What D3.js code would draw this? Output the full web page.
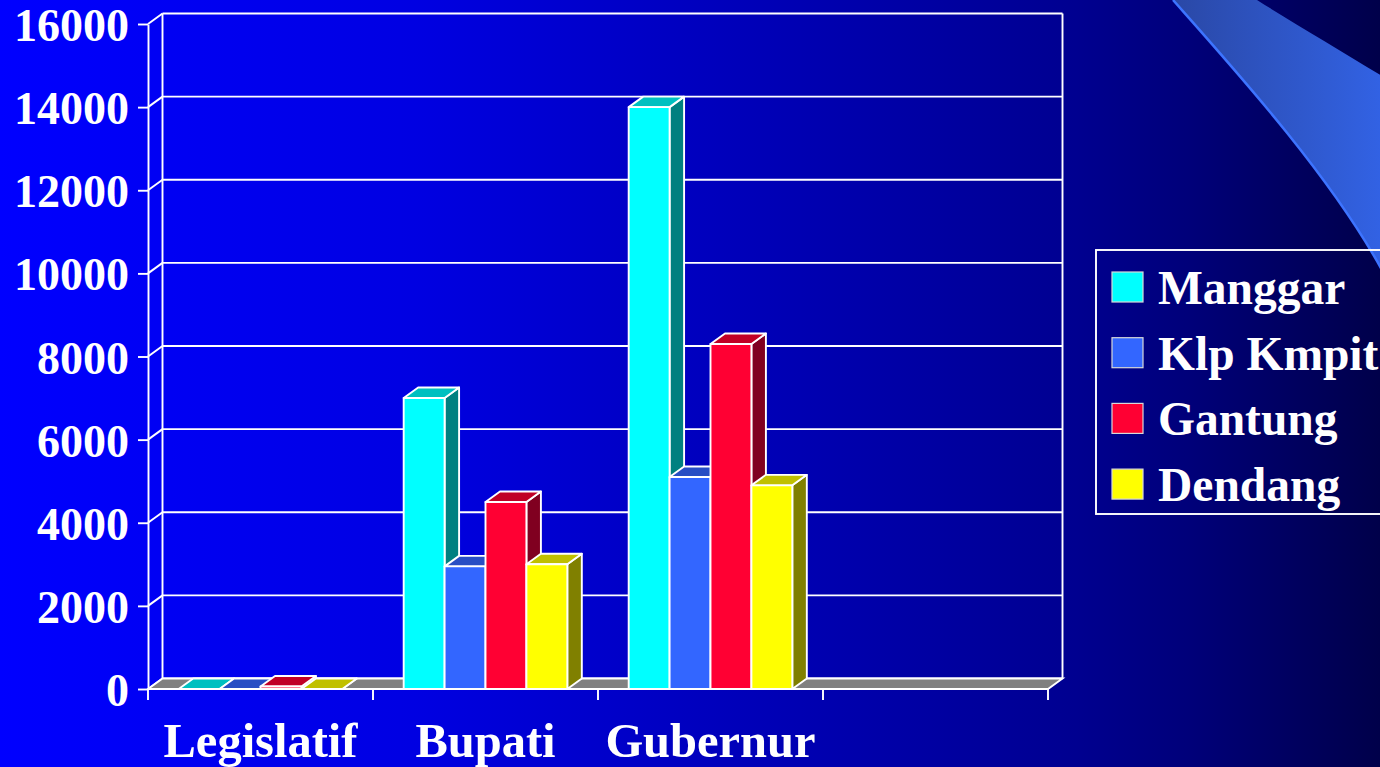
<!DOCTYPE html>
<html>
<head>
<meta charset="utf-8">
<script src="https://cdn.jsdelivr.net/npm/d3@7"></script>
<style>
  html, body { margin: 0; padding: 0; background: #00008a; overflow: hidden; }
  svg { display: block; }
  text { font-family: "Liberation Serif", "Times New Roman", serif; font-weight: bold; fill: #fff; }
</style>
</head>
<body>
<svg id="chart" width="1380" height="767"></svg>
<script>
// -------- DATA --------
const categories = ["Legislatif", "Bupati", "Gubernur", ""];
const series = ["Manggar", "Klp Kmpit", "Gantung", "Dendang"];
const manggar  = [0, 7000, 14000, null];
const klpKmpit = [0, 2950, 5100, null];
const gantung  = [60, 4500, 8300, null];
const dendang  = [0, 3000, 4900, null];
const yTicks = [0, 2000, 4000, 6000, 8000, 10000, 12000, 14000, 16000];

const seriesValues = [manggar, klpKmpit, gantung, dendang];
// front, top, side shades
const shades = [
  ["#00ffff", "#00c0c0", "#008080"],
  ["#3366ff", "#284ec4", "#1a3380"],
  ["#ff0033", "#c00026", "#800020"],
  ["#ffff00", "#c0c000", "#808000"]
];

// -------- LAYOUT --------
const W = 1380, H = 767;
const DX = 14.5, DY = -10.5;   // depth offset of the 3d look
const LW = 1.9;                // white line width
const svg = d3.select("#chart");

const x = d3.scaleBand().domain(categories).range([148, 1048]);
const xs = d3.scaleBand().domain(series).range([0, x.bandwidth()])
  .paddingInner(0).paddingOuter(0.75);
const y = d3.scaleLinear().domain([0, 16000]).range([689, 24]);

const x0 = x.range()[0], x1 = x.range()[1];
const yBase = y(0), yTop = y(16000);

// -------- BACKGROUND --------
const defs = svg.append("defs");
const bg = defs.append("linearGradient").attr("id", "bg")
  .attr("x1", "0%").attr("x2", "100%").attr("y1", "0%").attr("y2", "0%");
[[0, "#0000ff"], [0.3, "#0000e2"], [0.58, "#0000b2"], [0.78, "#000090"],
 [0.86, "#00007a"], [1, "#00004a"]].forEach(s =>
  bg.append("stop").attr("offset", s[0]).attr("stop-color", s[1]));

svg.append("rect").attr("width", W).attr("height", H).attr("fill", "url(#bg)");

// swoosh at top right
const sw = defs.append("linearGradient").attr("id", "swoosh")
  .attr("x1", "0%").attr("x2", "100%").attr("y1", "0%").attr("y2", "0%");
sw.append("stop").attr("offset", 0).attr("stop-color", "#2a48a6");
sw.append("stop").attr("offset", 1).attr("stop-color", "#3262e4");

svg.append("path")
  .attr("d", "M1173,0 C1235,70 1330,175 1382,270 L1382,76 C1340,50 1295,24 1257,0 Z")
  .attr("fill", "url(#swoosh)");
svg.append("path")
  .attr("d", "M1173,0 C1235,70 1330,175 1382,270")
  .attr("fill", "none").attr("stroke", "#3d74ff").attr("stroke-width", 2.5);

// -------- WALLS & GRID --------
const grid = svg.append("g").attr("stroke", "#fff").attr("stroke-width", LW).attr("fill", "none");

grid.selectAll("line.back")
  .data(yTicks)
  .enter().append("line")
  .attr("x1", x0 + DX).attr("x2", x1 + DX)
  .attr("y1", d => y(d) + DY).attr("y2", d => y(d) + DY);

grid.selectAll("line.side")
  .data(yTicks)
  .enter().append("line")
  .attr("x1", x0).attr("x2", x0 + DX)
  .attr("y1", d => y(d)).attr("y2", d => y(d) + DY);

grid.append("line").attr("x1", x0 + DX).attr("x2", x0 + DX)
  .attr("y1", yTop + DY).attr("y2", yBase + DY);
grid.append("line").attr("x1", x1 + DX).attr("x2", x1 + DX)
  .attr("y1", yTop + DY).attr("y2", yBase + DY);

// floor
svg.append("path")
  .attr("d", `M${x0},${yBase} L${x1},${yBase} L${x1 + DX},${yBase + DY} L${x0 + DX},${yBase + DY} Z`)
  .attr("fill", "#808080").attr("stroke", "#fff").attr("stroke-width", LW);

// -------- BARS --------
const bars = [];
categories.forEach((c, ci) => {
  series.forEach((s, si) => {
    const v = seriesValues[si][ci];
    if (v === null) return;
    bars.push({ c, s, si, v });
  });
});

const barG = svg.append("g").attr("stroke", "#fff").attr("stroke-width", LW)
  .attr("stroke-linejoin", "round");

bars.forEach(b => {
  const bx = x(b.c) + xs(b.s);
  const bw = xs.bandwidth();
  const yt = y(b.v);
  const g = barG.append("g");
  // side
  g.append("path")
    .attr("d", `M${bx + bw},${yBase} L${bx + bw + DX},${yBase + DY} L${bx + bw + DX},${yt + DY} L${bx + bw},${yt} Z`)
    .attr("fill", shades[b.si][2]);
  // top
  g.append("path")
    .attr("d", `M${bx},${yt} L${bx + DX},${yt + DY} L${bx + bw + DX},${yt + DY} L${bx + bw},${yt} Z`)
    .attr("fill", shades[b.si][1]);
  // front
  g.append("rect")
    .attr("x", bx).attr("y", yt)
    .attr("width", bw).attr("height", yBase - yt)
    .attr("fill", shades[b.si][0]);
});

// -------- AXES --------
const yAxis = svg.append("g")
  .attr("transform", `translate(${x0},0)`)
  .call(d3.axisLeft(y).tickValues(yTicks).tickSize(10).tickSizeOuter(0).tickPadding(9)
    .tickFormat(d3.format("d")));
yAxis.selectAll("path, line").attr("stroke", "#fff").attr("stroke-width", LW);
yAxis.selectAll("text")
  .attr("fill", "#fff")
  .attr("font-family", "'Liberation Serif', 'Times New Roman', serif")
  .attr("font-weight", "bold")
  .attr("font-size", 46)
  .attr("dy", "0.36em");

// front baseline and category ticks
svg.append("line")
  .attr("x1", x0).attr("x2", x1).attr("y1", yBase).attr("y2", yBase)
  .attr("stroke", "#fff").attr("stroke-width", 2);

svg.selectAll("line.xtick")
  .data(categories.map(c => x(c)).concat([x1]))
  .enter().append("line")
  .attr("x1", d => d).attr("x2", d => d)
  .attr("y1", yBase).attr("y2", yBase + 11)
  .attr("stroke", "#fff").attr("stroke-width", LW);

svg.selectAll("text.cat")
  .data(categories)
  .enter().append("text")
  .attr("x", d => x(d) + x.bandwidth() / 2)
  .attr("y", 757)
  .attr("text-anchor", "middle")
  .attr("font-size", 48.5)
  .text(d => d);

// -------- LEGEND --------
const legend = svg.append("g").attr("transform", "translate(1096,250)");
legend.append("rect")
  .attr("x", 0).attr("y", 0).attr("width", 310).attr("height", 264)
  .attr("fill", "none").attr("stroke", "#fff").attr("stroke-width", LW);

const item = legend.selectAll("g.item")
  .data(series)
  .enter().append("g")
  .attr("transform", (d, i) => `translate(0,${22 + i * 65.7})`);

item.append("rect")
  .attr("x", 16).attr("y", 0).attr("width", 31).attr("height", 30)
  .attr("fill", (d, i) => shades[i][0])
  .attr("stroke", "#d8d8d8").attr("stroke-width", 1.2);

item.append("text")
  .attr("x", 62).attr("y", 32)
  .attr("font-size", 47.5)
  .text(d => d);
</script>
</body>
</html>
